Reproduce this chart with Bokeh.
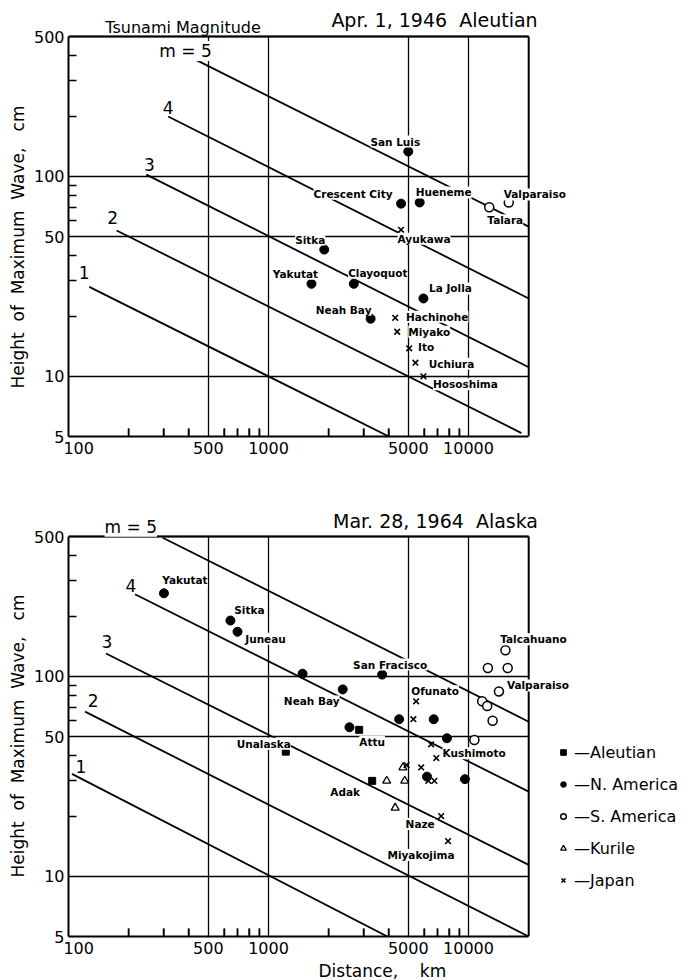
import math
from bokeh.plotting import figure
from bokeh.models import (FixedTicker, PrintfTickFormatter, ColumnDataSource, LabelSet, Label,
                          Legend, LegendItem, Title)
from bokeh.layouts import column
from bokeh.embed import file_html
from bokeh.resources import INLINE
from bokeh.core.properties import value

FONT = "DejaVu Sans"
NB = "\u00a0"

# ---------------- axes ----------------
X_MIN, X_MAX = 100, 20000
Y_MIN, Y_MAX = 5, 500
X_TICKS = [100, 500, 1000, 5000, 10000]
X_MINOR = [200, 300, 400, 600, 700, 800, 900, 2000, 3000, 4000, 6000, 7000, 8000, 9000]
Y_TICKS = [5, 10, 50, 100, 500]
Y_MINOR = [20, 30, 40, 60, 70, 80, 90, 200, 300, 400]

# ---------------- magnitude lines (start / end points) ----------------
MAG_LABELS = ["1", "2", "3", "4", "m = 5"]
top_line_x0 = [127, 174, 245, 315, 417]
top_line_y0 = [28, 53.6, 102, 199, 390]
top_line_x1 = [4000, 18400, 20000, 20000, 20000]
top_line_y1 = [5, 5.2, 11.1, 24.5, 56]

bot_line_x0 = [104, 121, 154, 215, 296]
bot_line_y0 = [32.5, 66.6, 130, 257, 493]
bot_line_x1 = [3930, 20000, 20000, 20000, 20000]
bot_line_y1 = [5, 5, 11.4, 26.5, 59.3]

# ---------------- 1946 Aleutian ----------------
na46_names = ["San Luis", "Crescent City", "Hueneme", "Sitka", "Yakutat", "Clayoquot", "Neah Bay", "La Jolla"]
na46_x = [5000, 4600, 5700, 1900, 1640, 2670, 3240, 5950]
na46_y = [133, 73, 74, 43, 29, 29, 19.4, 24.5]

sa46_names = ["Talara", "Valparaiso"]
sa46_x = [12700, 15900]
sa46_y = [70, 74]

jp46_names = ["Ayukawa", "Hachinohe", "Miyako", "Ito", "Uchiura", "Hososhima"]
jp46_x = [4600, 4300, 4400, 5050, 5430, 5950]
jp46_y = [54, 19.6, 16.7, 13.8, 11.7, 10]

# ---------------- 1964 Alaska ----------------
al64_names = ["Unalaska", "Attu", "Adak"]
al64_x = [1220, 2840, 3300]
al64_y = [42, 54, 30]

na64_names = ["Yakutat", "Sitka", "Juneau", "", "Neah Bay", "San Fracisco", "", "", "", "", "", ""]
na64_x = [300, 645, 700, 1480, 2350, 3700, 4500, 6700, 2540, 7800, 6200, 9600]
na64_y = [260, 190, 167, 103, 86, 102, 61, 61, 55.6, 49, 31.5, 30.6]

sa64_names = ["Talcahuano", "", "", "Valparaiso", "", "", "", ""]
sa64_x = [15300, 15700, 12500, 14200, 11700, 12400, 13200, 10700]
sa64_y = [135, 110, 110, 84, 75, 71, 60, 48]

ku64_x = [3900, 4800, 4700, 4300]
ku64_y = [30, 30, 35, 22]

jp64_names = ["Ofunato", "", "Kushimoto", "", "", "", "", "", "Naze", "Miyakojima"]
jp64_x = [5470, 5300, 6500, 6900, 4900, 5800, 6300, 6750, 7300, 7900]
jp64_y = [75, 61, 45.7, 39, 36, 35, 30, 30, 20, 15]

# label placement offsets (screen px: right, up)
LBL_OFF = {
    "San Luis": (-13, 10), "Crescent City": (-48, 10), "Hueneme": (24, 10), "Sitka46": (-14, 10),
    "Yakutat46": (-16, 10), "Clayoquot": (24, 11), "Neah Bay46": (-27, 9), "La Jolla": (27, 10),
    "Talara": (16, -13), "Valparaiso46": (26, 8),
    "Ayukawa": (23, -9), "Hachinohe": (42, 1), "Miyako": (32, 0), "Ito": (17, 1),
    "Uchiura": (36, -1), "Hososhima": (42, -8),
    "Unalaska": (-22, 8), "Attu": (13, -12), "Adak": (-27, -11),
    "Yakutat": (21, 13), "Sitka": (19, 11), "Juneau": (28, -7), "Neah Bay": (-31, -12),
    "San Fracisco": (8, 10), "Talcahuano": (28, 11), "Valparaiso": (39, 6),
    "Ofunato": (19, 10), "Kushimoto": (43, -9), "Naze": (-21, -8), "Miyakojima": (-27, -14),
}
TOP_MAG_OFF = [(-5, 14), (-4, 13), (3, 10), (0, 9), (-7, 7)]
BOT_MAG_OFF = [(9, 7), (8, 11), (1, 12), (-4, 9), (-32, 11)]

PX_PER_DECADE = 200
Y_LABEL = NB.join(["Height", "", "of", "", "Maximum", "", "Wave,", "", "", "cm"])


def make_fig(left, bottom, frame_w, frame_h, above_px, ylabel_offset):
    # frame extends beyond the data box (to the right and above) so that texts there are not clipped
    x_end = X_MIN * 10 ** (frame_w / PX_PER_DECADE)
    y_end = Y_MAX * 10 ** (above_px / PX_PER_DECADE)
    p = figure(x_axis_type="log", y_axis_type="log", x_range=(X_MIN, x_end), y_range=(Y_MIN, y_end),
               frame_width=frame_w, frame_height=frame_h, output_backend="svg",
               toolbar_location=None, min_border_left=left, min_border_top=0,
               min_border_bottom=bottom, min_border_right=0)
    p.background_fill_color = "white"
    p.border_fill_color = "white"
    p.outline_line_color = None
    p.xaxis.ticker = FixedTicker(ticks=X_TICKS, minor_ticks=X_MINOR)
    p.yaxis.ticker = FixedTicker(ticks=Y_TICKS, minor_ticks=Y_MINOR)
    p.xaxis.formatter = PrintfTickFormatter(format="%d")
    p.yaxis.formatter = PrintfTickFormatter(format="%d")
    p.xaxis.major_label_overrides = {100: NB * 4 + "100"}
    p.xaxis.bounds = (X_MIN, X_MAX)
    p.yaxis.bounds = (Y_MIN, Y_MAX)
    for ax in (p.xaxis, p.yaxis):
        ax.axis_line_color = "black"
        ax.axis_line_width = 2
        ax.major_tick_in = 0
        ax.major_tick_out = 0
        ax.minor_tick_in = 8
        ax.minor_tick_out = 0
        ax.minor_tick_line_color = "black"
        ax.minor_tick_line_width = 1.5
        ax.major_label_text_font = FONT
        ax.major_label_text_font_size = "16px"
        ax.major_label_text_color = "black"
        ax.major_label_standoff = 4
    p.xaxis.major_label_standoff = 2
    p.add_layout(Title(text=Y_LABEL, align="left", offset=ylabel_offset, text_font=FONT,
                       text_font_size="17px", text_font_style="normal", text_color="black",
                       standoff=6), "left")
    p.xgrid.ticker = FixedTicker(ticks=X_TICKS)
    p.ygrid.ticker = FixedTicker(ticks=Y_TICKS)
    p.xgrid.cross_bounds = (Y_MIN, Y_MAX)
    p.ygrid.cross_bounds = (X_MIN, X_MAX)
    for g in (p.xgrid, p.ygrid):
        g.grid_line_color = "black"
        g.grid_line_width = 1.3
        g.grid_line_alpha = 1
    # top and right edges of the data box
    p.segment(x0=[X_MIN, X_MAX], y0=[Y_MAX, Y_MIN], x1=[X_MAX, X_MAX], y1=[Y_MAX, Y_MAX],
              line_color="black", line_width=2)
    # inward minor ticks on the distance axis (vertical dashes at the axis; lower half clipped)
    p.scatter(X_MINOR, [Y_MIN] * len(X_MINOR), marker="dash", angle=math.pi / 2, size=16,
              line_color="black", line_width=1.5)
    return p


def add_lines(p, x0, y0, x1, y1, offs):
    p.segment(x0=x0, y0=y0, x1=x1, y1=y1, line_color="black", line_width=1.8)
    src = ColumnDataSource(dict(x=x0, y=y0, t=MAG_LABELS,
                                dx=[o[0] for o in offs], dy=[o[1] for o in offs]))
    p.add_layout(LabelSet(x="x", y="y", text="t", source=src, x_offset="dx", y_offset="dy",
                          text_align="center", text_baseline="middle", text_font=value(FONT),
                          text_font_size="17px", text_color="black",
                          background_fill_color="white"))


def add_labels(p, xs, ys, names, suffix=""):
    lx, ly, lt, ldx, ldy = [], [], [], [], []
    for x, y, n in zip(xs, ys, names):
        if not n:
            continue
        key = n + suffix if (n + suffix) in LBL_OFF else n
        dx, dy = LBL_OFF[key]
        lx.append(x); ly.append(y); lt.append(n); ldx.append(dx); ldy.append(dy)
    src = ColumnDataSource(dict(x=lx, y=ly, t=lt, dx=ldx, dy=ldy))
    p.add_layout(LabelSet(x="x", y="y", text="t", source=src, x_offset="dx", y_offset="dy",
                          text_align="center", text_baseline="middle", text_font=value(FONT),
                          text_font_size="10.5px", text_font_style="bold", text_color="black",
                          background_fill_color="white"))


def text_label(p, x, y, t, size):
    p.add_layout(Label(x=x, y=y, text=t, text_align="center", text_baseline="middle",
                       text_font=FONT, text_font_size=size, text_color="black"))


def filled_circles(p, x, y):
    return p.scatter(x, y, marker="circle", size=9, fill_color="black", line_color="black")


def open_circles(p, x, y):
    return p.scatter(x, y, marker="circle", size=9, fill_color="white", line_color="black",
                     line_width=1.5)


def crosses(p, x, y):
    return p.scatter(x, y, marker="x", size=8, line_color="black", line_width=1.6)


# ================= top chart =================
p1 = make_fig(left=67, bottom=30, frame_w=510, frame_h=436, above_px=36, ylabel_offset=48)
add_lines(p1, top_line_x0, top_line_y0, top_line_x1, top_line_y1, TOP_MAG_OFF)
filled_circles(p1, na46_x, na46_y)
open_circles(p1, sa46_x, sa46_y)
crosses(p1, jp46_x, jp46_y)
add_labels(p1, na46_x, na46_y, na46_names, "46")
add_labels(p1, sa46_x, sa46_y, sa46_names, "46")
add_labels(p1, jp46_x, jp46_y, jp46_names, "46")
text_label(p1, 374, 555, "Tsunami Magnitude", "16px")
text_label(p1, 6760, 608, "Apr. 1, 1946" + NB * 2 + "Aleutian", "19px")

# ================= bottom chart =================
p2 = make_fig(left=68, bottom=28, frame_w=619, frame_h=470, above_px=70, ylabel_offset=59)
add_lines(p2, bot_line_x0, bot_line_y0, bot_line_x1, bot_line_y1, BOT_MAG_OFF)
r_sq = p2.scatter(al64_x, al64_y, marker="square", size=7, fill_color="black", line_color="black")
r_fc = filled_circles(p2, na64_x, na64_y)
r_oc = open_circles(p2, sa64_x, sa64_y)
r_tr = p2.scatter(ku64_x, ku64_y, marker="triangle", size=8, fill_color="white",
                  line_color="black", line_width=1.3)
r_x = crosses(p2, jp64_x, jp64_y)
add_labels(p2, al64_x, al64_y, al64_names)
add_labels(p2, na64_x, na64_y, na64_names)
add_labels(p2, sa64_x, sa64_y, sa64_names)
add_labels(p2, jp64_x, jp64_y, jp64_names)
text_label(p2, 6840, 601, "Mar. 28, 1964" + NB * 2 + "Alaska", "19px")

p2.add_layout(Title(text="Distance," + NB * 4 + "km", align="left", offset=250, text_font=FONT,
                    text_font_size="17px", text_font_style="normal", text_color="black",
                    vertical_align="top", standoff=0), "below")

legend = Legend(items=[LegendItem(label="\u2014Aleutian", renderers=[r_sq]),
                       LegendItem(label="\u2014N. America", renderers=[r_fc]),
                       LegendItem(label="\u2014S. America", renderers=[r_oc]),
                       LegendItem(label="\u2014Kurile", renderers=[r_tr]),
                       LegendItem(label="\u2014Japan", renderers=[r_x])],
                location=(488, 46), border_line_color=None, background_fill_alpha=0,
                label_text_font=FONT, label_text_font_size="16px", label_text_color="black",
                glyph_width=14, glyph_height=14, label_height=20, label_standoff=4,
                spacing=12, padding=0, margin=0)
p2.add_layout(legend)

layout = column(p1, p2)
open("out.html", "w").write(file_html(layout, INLINE))
